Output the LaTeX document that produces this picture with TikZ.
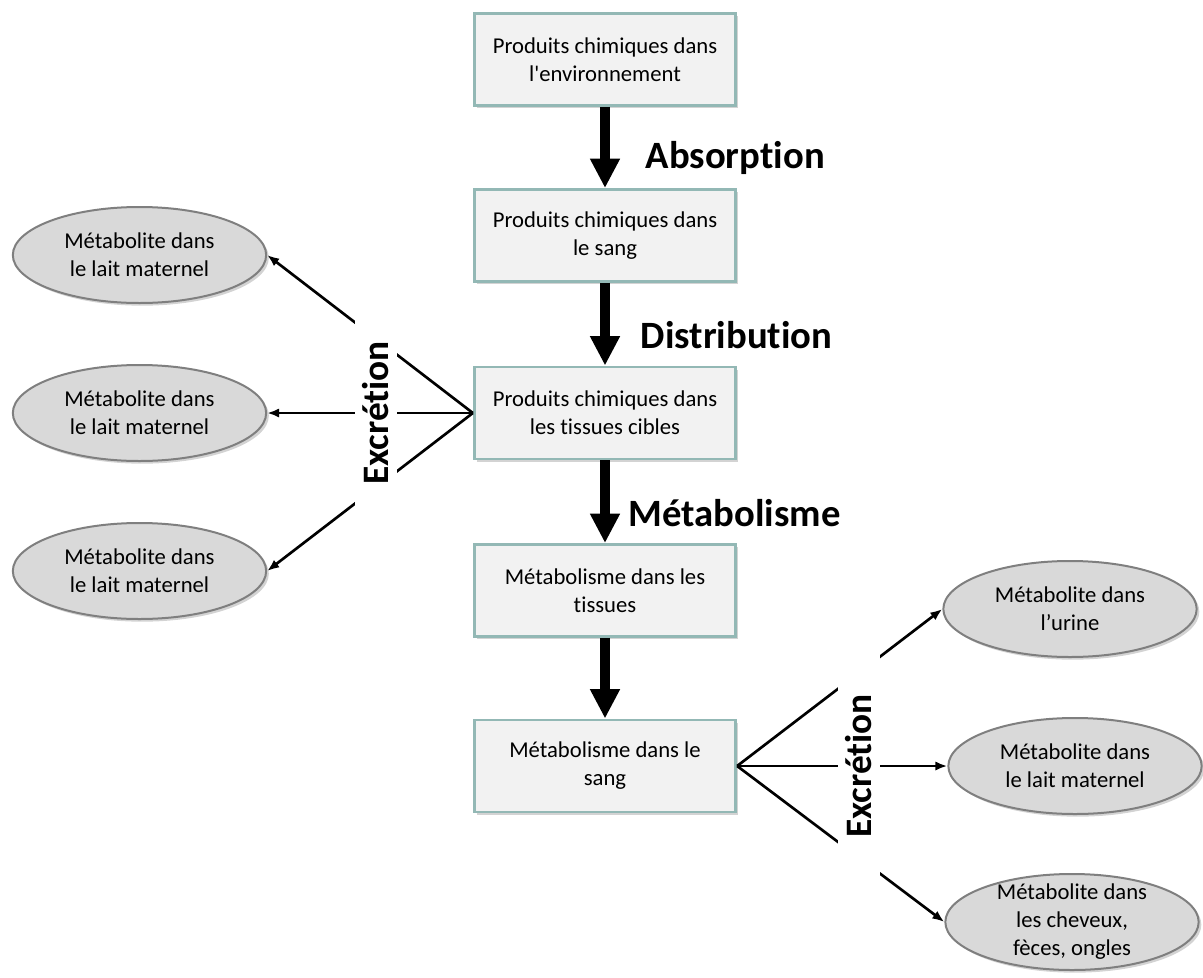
\documentclass[tikz,border=0pt]{standalone}
\usepackage{fontspec}
\setmainfont{Carlito}[Ligatures={TeX,NoCommon}]
\usetikzlibrary{arrows.meta,shapes.geometric,shadows}
\definecolor{boxline}{HTML}{93B8B5}
\definecolor{boxfill}{HTML}{F2F2F2}
\definecolor{ellfill}{HTML}{D9D9D9}
\definecolor{ellline}{HTML}{7F7F7F}

\begin{document}
\begin{tikzpicture}[x=0.75pt, y=-0.75pt, >={Latex[length=9pt,width=7pt]},
  font=\fontsize{17}{21}\selectfont,
  stage/.style={draw=boxline, line width=2.2pt, fill=boxfill, minimum width=196pt,
    minimum height=69pt, align=center, inner sep=0pt,
    drop shadow={opacity=0.35, shadow xshift=2pt, shadow yshift=-2pt}},
  metab/.style={ellipse, draw=ellline, line width=1.5pt, fill=ellfill, minimum width=190pt,
    minimum height=72pt, align=center, inner sep=0pt,
    drop shadow={opacity=0.35, shadow xshift=2pt, shadow yshift=-2pt}},
  bigarrow/.style={line width=7.5pt, -{Triangle[width=21pt,length=22pt]}},
  fan/.style={line width=2pt, ->},
  phase/.style={anchor=west, font=\fontsize{29}{34}\selectfont\bfseries},
  excr/.style={rotate=90, fill=white, minimum width=172pt, minimum height=31pt,
    inner sep=0pt, font=\fontsize{28}{34}\selectfont\bfseries}]
\useasboundingbox (0,0) rectangle (1203,978);

\foreach \n/\y/\txt in {1/59.5/{Produits chimiques dans\\l\textquotesingle environnement},
    2/235.5/{Produits chimiques dans\\le sang}, 3/413/{Produits chimiques dans\\les tissues cibles},
    4/590.5/{Métabolisme dans les\\tissues}, 5/766/{Métabolisme dans le\\sang}}
  \node[stage] (b\n) at (605,\y) {\txt};

\foreach \n/\y in {1/255,2/413,3/571}
  \node[metab] (l\n) at (139.5,\y) {Métabolite dans\\le lait maternel};
\node[metab] (r1) at (1070,609) {Métabolite dans\\l’urine};
\node[metab] (r2) at (1075,766) {Métabolite dans\\le lait maternel};
\node[metab, inner ysep=-6pt] (r3) at (1072,922) {Métabolite dans\\les cheveux,\\fèces, ongles};

\foreach \a/\b in {1/2,2/3,3/4,4/5} \draw[bigarrow] (b\a) -- (b\b);
\node[phase] (absorp) at (641,158) {Absorption};
\node[phase] (distr) at (636,335) {Distribution};
\node[phase] (metabo) at (624,513) {Métabolisme};

\foreach \n in {1,2,3} \draw[fan] (b3.west) -- (l\n.east);
\foreach \n in {1,2,3} \draw[fan] (b5.east) -- (r\n.west);
\node[excr] (exleft) at (376,413) {Excrétion};
\node[excr] (exright) at (859,766) {Excrétion};
\end{tikzpicture}
\end{document}
